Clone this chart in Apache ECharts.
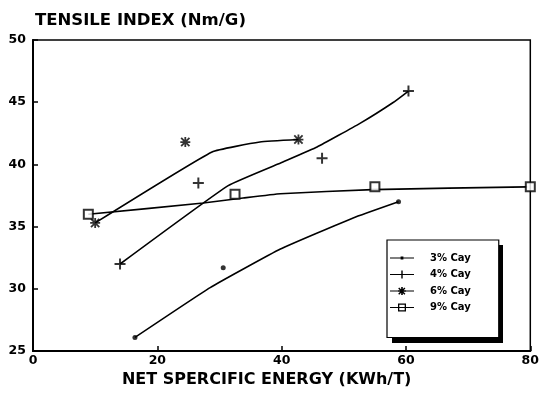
<!DOCTYPE html>
<html>
<head>
<meta charset="utf-8">
<script src="https://cdn.jsdelivr.net/npm/echarts@6/dist/echarts.min.js"></script>
<style>
  html, body { margin: 0; padding: 0; background: #fff; }
  #chart { width: 542px; height: 393px; }
</style>
</head>
<body>
<div id="chart"></div>
<script>
// ---- data ----
const seriesNames = ['3% Cay', '4% Cay', '6% Cay', '9% Cay'];
const xTicks = [0, 20, 40, 60, 80];
const yTicks = [25, 30, 35, 40, 45, 50];

// measured points (x: net specific energy, y: tensile index)
const points3 = [[16.4, 26.1], [30.6, 31.7], [58.8, 37.0]];
const points4 = [[14.0, 32.0], [26.6, 38.5], [46.5, 40.5], [60.4, 45.9]];
const points6 = [[10.0, 35.3], [24.5, 41.8], [42.7, 42.0]];
const points9 = [[8.9, 36.0], [32.5, 37.6], [55.0, 38.2], [80.0, 38.2]];

// fitted curves
const curve3 = [[16.4, 26.1], [28.5, 30.1], [39.8, 33.2], [51.5, 35.7], [58.8, 37.0]];
const curve4 = [[14.0, 32.0], [31.4, 38.3], [40.2, 40.2], [45.7, 41.4], [52.6, 43.3], [58.0, 45.0], [60.4, 45.9]];
const curve6 = [[10.0, 35.3], [28.8, 41.0], [36.5, 41.8], [42.7, 42.0]];
const curve9 = [[8.9, 36.0], [27.4, 36.9], [33.8, 37.3], [39.8, 37.65], [54.6, 37.98], [79.5, 38.2]];

// ---- styling ----
const FONT = 'DejaVu Sans';
const BLACK = '#000';
const plusPath = 'path://M4.1,0 H5.9 V4.1 H10 V5.9 H5.9 V10 H4.1 V5.9 H0 V4.1 H4.1 Z';
const starPath = 'path://M4.1,0 H5.9 V10 H4.1 Z M0,4.1 H10 V5.9 H0 Z M1.5,0.2 L9.8,8.5 L8.5,9.8 L0.2,1.5 Z M8.5,0.2 L9.8,1.5 L1.5,9.8 L0.2,8.5 Z';

const legendIcons = [
  'path://M0,4.4 H24 V5.6 H0 Z M10.6,3.6 H13.4 V6.4 H10.6 Z',
  'path://M0,4.4 H24 V5.6 H0 Z M11.3,1 H12.7 V9 H11.3 Z',
  'path://M0,4.4 H24 V5.6 H0 Z M11.2,1 H12.8 V9 H11.2 Z M8,4.2 H16 V5.8 H8 Z M9.2,1.6 L15.4,7.8 L14.4,8.8 L8.2,2.6 Z M14.4,1.6 L15.4,2.6 L9.2,8.8 L8.2,7.8 Z',
  'path://M0,4.4 H24 V5.6 H0 Z M8,1 H16 V9 H8 Z M9.3,2.3 V7.7 H14.7 V2.3 Z'
];

const curves = [curve3, curve4, curve6, curve9];
const pts = [points3, points4, points6, points9];
const symbols = ['circle', plusPath, starPath, 'emptyRect'];
const symbolSizes = [5, 11, 10, 9];

const series = [];
seriesNames.forEach((name, i) => {
  series.push({
    name: name,
    type: 'line',
    data: curves[i],
    smooth: 0.12,
    showSymbol: false,
    symbol: 'none',
    lineStyle: { color: BLACK, width: 1.6 },
    itemStyle: { color: BLACK },
    silent: true,
    z: 2
  });
  series.push({
    name: name,
    type: 'scatter',
    data: pts[i],
    symbol: symbols[i],
    symbolSize: symbolSizes[i],
    itemStyle: i === 3 ? { color: BLACK, borderColor: BLACK, borderWidth: 1.5 } : { color: BLACK },
    z: 3
  });
});

const chart = echarts.init(document.getElementById('chart'), null, { renderer: 'canvas' });
chart.setOption({
  animation: false,
  backgroundColor: '#fff',
  title: {
    text: 'TENSILE INDEX (Nm/G)',
    left: 30,
    top: 7,
    textStyle: { fontFamily: FONT, fontSize: 16.5, fontWeight: 'bold', color: BLACK }
  },
  grid: {
    left: 33, top: 40, right: 11, bottom: 41,
    show: true, borderColor: BLACK, borderWidth: 1.5, backgroundColor: 'transparent'
  },
  graphic: [{
    type: 'rect',
    shape: { x: 392, y: 245, width: 111, height: 98 },
    style: { fill: BLACK },
    z: 0, zlevel: 0, silent: true
  }],
  legend: {
    orient: 'vertical',
    left: 387,
    top: 240,
    padding: [13, 28, 25, 3],
    itemWidth: 24,
    itemHeight: 10,
    itemGap: 6.5,
    backgroundColor: '#fff',
    borderColor: BLACK,
    borderWidth: 1.2,
    z: 5,
    itemStyle: { borderWidth: 0 },
    textStyle: { fontFamily: FONT, fontSize: 10, fontWeight: 'bold', color: BLACK, padding: [0, 0, 0, 11] },
    data: seriesNames.map((n, i) => ({ name: n, icon: legendIcons[i] }))
  },
  xAxis: {
    type: 'value',
    min: xTicks[0],
    max: xTicks[xTicks.length - 1],
    interval: 20,
    name: 'NET SPERCIFIC ENERGY (KWh/T)',
    nameLocation: 'middle',
    nameGap: 16,
    nameTextStyle: { fontFamily: FONT, fontSize: 16, fontWeight: 'bold', color: BLACK, padding: [0, 30, 0, 0] },
    axisLine: { show: true, lineStyle: { color: BLACK, width: 2 } },
    axisTick: { show: true, inside: true, length: 5, lineStyle: { color: BLACK, width: 1.5 } },
    axisLabel: { fontFamily: FONT, fontSize: 12.5, fontWeight: 'bold', color: BLACK, margin: 3 },
    splitLine: { show: false }
  },
  yAxis: {
    type: 'value',
    min: yTicks[0],
    max: yTicks[yTicks.length - 1],
    interval: 5,
    axisLine: { show: true, lineStyle: { color: BLACK, width: 2 } },
    axisTick: { show: true, inside: true, length: 5, lineStyle: { color: BLACK, width: 1.5 } },
    axisLabel: { fontFamily: FONT, fontSize: 12.5, fontWeight: 'bold', color: BLACK, margin: 7 },
    splitLine: { show: false }
  },
  series: series
});
</script>
</body>
</html>
